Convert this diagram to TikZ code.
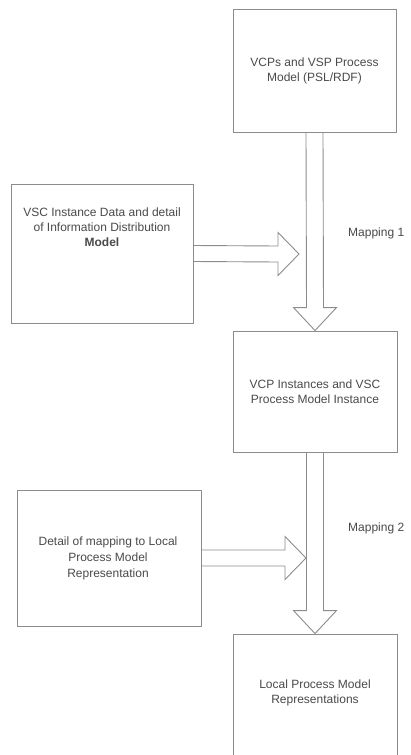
\documentclass[tikz,border=0pt]{standalone}
\usepackage{fontspec}
\setmainfont{Liberation Sans}
\usetikzlibrary{calc}
\definecolor{edgegray}{HTML}{8C8C8C}
\definecolor{inkgray}{HTML}{4A4A4A}
% open block arrow pointing right: start point, tip
\newcommand\blockright[2]{%
  \draw[blockline] ($(#1)+(0,-8)$) -- ($(#2)+(-21,-8)$) -- ($(#2)+(-21,-21.5)$)
    -- (#2) -- ($(#2)+(-21,21.5)$) -- ($(#2)+(-21,8)$) -- ($(#1)+(0,8)$);}
% open block arrow pointing down: start point, tip
\newcommand\blockdown[2]{%
  \draw[blockline] ($(#1)+(-8.5,0)$) -- ($(#2)+(-8.5,-23)$) -- ($(#2)+(-21.5,-23)$)
    -- (#2) -- ($(#2)+(21.5,-23)$) -- ($(#2)+(8.5,-23)$) -- ($(#1)+(8.5,0)$);}
\begin{document}
\begin{tikzpicture}[x=1pt,y=-1pt,
  box/.style={draw=edgegray, line width=0.9pt, fill=white, inner sep=0pt},
  boxtext/.style={align=center, text=inkgray, font=\fontsize{12}{15}\selectfont},
  blockline/.style={draw=edgegray, line width=0.9pt, line join=miter},
  maplabel/.style={anchor=west, text=inkgray, font=\fontsize{12}{15}\selectfont, inner sep=0pt}]
\useasboundingbox (0,0) rectangle (410,755);
\fill[white] (0,0) rectangle (410,755);
\clip (0,0) rectangle (410,755);

% process boxes
\node[box, minimum width=163pt, minimum height=123pt] (psl) at (314.5,70.5) {};
\node[boxtext] (psltext) at (psl.center) {VCPs and VSP Process\\Model (PSL/RDF)};

\node[box, minimum width=182pt, minimum height=139pt] (vsc) at (102,253.5) {};
\node[boxtext] (vsctext) at (102,227) {VSC Instance Data and detail\\of Information Distribution\\\textbf{Model}};

\node[box, minimum width=164pt, minimum height=121pt] (inst) at (315,391.5) {};
\node[boxtext] (insttext) at (inst.center) {VCP Instances and VSC\\Process Model Instance};

\node[box, minimum width=184pt, minimum height=136pt] (detail) at (109,558) {};
\node[boxtext, font=\fontsize{12}{16}\selectfont] (detailtext) at (108,558) {Detail of mapping to Local\\Process Model\\Representation};

\node[box, minimum width=164pt, minimum height=130pt] (local) at (315,699) {};
\node[boxtext] (localtext) at (315,693) {Local Process Model\\Representations};

% arrow tips on the free ends
\coordinate (tipA) at (299,254);
\coordinate (tipB) at (306,558);

% mapping arrows
\blockdown{psl.south}{inst.north}
\blockright{vsc.east}{tipA}
\blockdown{inst.south}{local.north}
\blockright{detail.east}{tipB}

\node[maplabel] (map1) at (348,233) {Mapping 1};
\node[maplabel] (map2) at (348,528) {Mapping 2};
\end{tikzpicture}
\end{document}
